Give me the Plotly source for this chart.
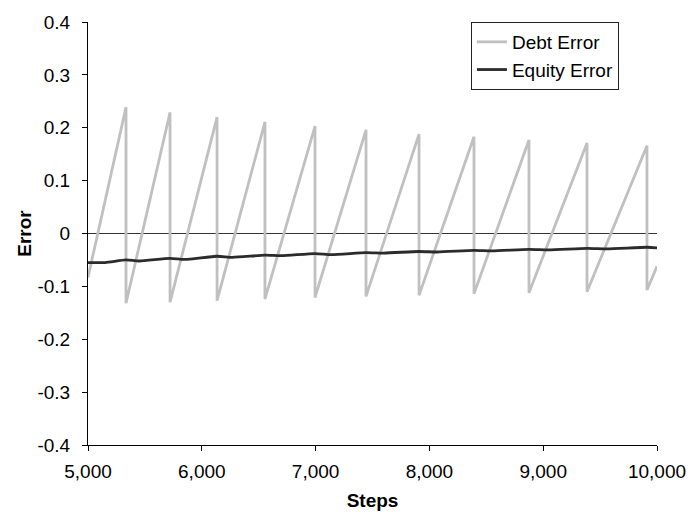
import plotly.graph_objects as go

# Debt error: linear ramps that rise to a peak, then reset at the same step
start_step, start_debt = 5000, -0.083
reset_steps = [5334, 5721, 6134, 6555, 6995, 7443, 7909, 8392, 8875, 9385, 9912]
peak_debt = [0.239, 0.229, 0.220, 0.211, 0.203, 0.196, 0.188, 0.183, 0.177, 0.171, 0.166]
trough_debt = [-0.132, -0.130, -0.127, -0.124, -0.121, -0.119, -0.117, -0.114, -0.112, -0.110, -0.107]
end_step, end_debt = 10000, -0.062

# Equity error: slow drift with small bumps at each reset
equity_steps = [5000, 5150, 5334, 5450, 5721, 5850, 6134, 6270, 6555, 6700,
                6995, 7140, 7443, 7600, 7909, 8070, 8392, 8550, 8875, 9050,
                9385, 9560, 9912, 10000]
equity_err = [-0.055, -0.055, -0.050, -0.052, -0.047, -0.049, -0.043, -0.045,
              -0.041, -0.042, -0.038, -0.040, -0.036, -0.037, -0.034, -0.035,
              -0.032, -0.033, -0.030, -0.031, -0.028, -0.029, -0.026, -0.027]

x_ticks = [5000, 6000, 7000, 8000, 9000, 10000]
x_labels = ["5,000", "6,000", "7,000", "8,000", "9,000", "10,000"]
y_ticks = [0.4, 0.3, 0.2, 0.1, 0, -0.1, -0.2, -0.3, -0.4]
y_labels = ["0.4", "0.3", "0.2", "0.1", "0", "-0.1", "-0.2", "-0.3", "-0.4"]

debt_x = [start_step]
debt_y = [start_debt]
for s, hi, lo in zip(reset_steps, peak_debt, trough_debt):
    debt_x += [s, s]
    debt_y += [hi, lo]
debt_x.append(end_step)
debt_y.append(end_debt)

font_family = "Liberation Sans, Arial, sans-serif"

fig = go.Figure()
fig.add_trace(go.Scatter(
    x=debt_x, y=debt_y, mode="lines", name="Debt Error",
    line=dict(color="#c0c0c0", width=2.8),
))
fig.add_trace(go.Scatter(
    x=equity_steps, y=equity_err, mode="lines", name="Equity Error",
    line=dict(color="#2b2b2b", width=2.8, shape="spline", smoothing=0.6),
))

fig.update_layout(
    width=691, height=516,
    margin=dict(l=88, r=34, t=19, b=71),
    paper_bgcolor="white", plot_bgcolor="white",
    font=dict(family=font_family, size=19, color="black"),
    showlegend=True,
    legend=dict(
        x=0.673, y=1.0, xanchor="left", yanchor="top",
        bgcolor="white", bordercolor="#222", borderwidth=1,
        font=dict(size=19), tracegroupgap=0,
        itemwidth=30,
    ),
    xaxis=dict(
        range=[5000, 10000], tickvals=x_ticks, ticktext=x_labels,
        showgrid=False, zeroline=False, showline=True,
        linecolor="black", linewidth=1, automargin=False,
        ticks="outside", ticklen=5, tickcolor="black",
        ticklabelstandoff=4,
        title=dict(text="<b>Steps</b>", font=dict(size=19), standoff=12),
    ),
    yaxis=dict(
        range=[-0.4, 0.4], tickvals=y_ticks, ticktext=y_labels,
        showgrid=False, zeroline=True, zerolinecolor="#333", zerolinewidth=1,
        showline=True, linecolor="black", linewidth=1, automargin=True,
        ticks="outside", ticklen=5, tickcolor="black",
        ticklabelstandoff=8,
        title=dict(text="<b>Error</b>", font=dict(size=19), standoff=0),
    ),
)

fig.write_html("out.html")
